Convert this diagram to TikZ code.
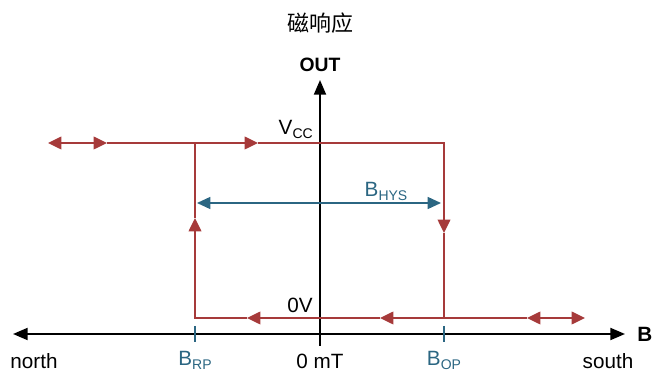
\documentclass[tikz,border=0pt]{standalone}
\usepackage{fontspec}
\setmainfont{Liberation Sans}
\newfontfamily\cjkfont{Noto Sans CJK SC}
\usetikzlibrary{arrows.meta}
\definecolor{hysred}{HTML}{A63A3A}
\definecolor{hysblue}{HTML}{2B6682}
\newcommand{\lowsub}[1]{\raisebox{-0.3ex}{\fontsize{10.5}{10.5}\selectfont #1}}

\begin{document}
\begin{tikzpicture}[x = 0.75pt, y = -0.75pt,
        axisline/.style = {black, line width=1.5pt},
        hysline/.style = {hysred, line width=1.1pt},
        widthline/.style = {hysblue, line width=1.1pt},
        lbl/.style = {inner sep=0pt, font=\fontsize{15.5}{18}\selectfont},
        atip/.tip = {Triangle[length=11pt, width=9pt]},
        rtip/.tip = {Triangle[length=10pt, width=9.5pt]},
        btip/.tip = {Triangle[length=10pt, width=9pt]}]
                \useasboundingbox (0,0) rectangle (660,373);
                % axes
                \draw[axisline, atip-atip] (13,334) -- (625,334);
                \draw[axisline, -atip] (320,346) -- (320,80);
                \draw[axisline, line width=1.2pt] (312,143) -- (328,143);
                \draw[axisline, line width=1.2pt] (312,318) -- (328,318);
                \draw[widthline] (195,326) -- (195,342);
                \draw[widthline] (444,326) -- (444,342);
                % hysteresis loop
                \draw[hysline, rtip-rtip] (48,143) -- (107,143);
                \draw[hysline, -rtip] (107,143) -- (258,143);
                \draw[hysline, -rtip] (258,143) -- (444,143) -- (444,233);
                \draw[hysline, -rtip] (444,233) -- (444,318) -- (380,318);
                \draw[hysline, -rtip] (380,318) -- (247,318);
                \draw[hysline, -rtip] (247,318) -- (195,318) -- (195,218);
                \draw[hysline] (195,218) -- (195,143);
                \draw[hysline] (444,318) -- (527,318);
                \draw[hysline, rtip-rtip] (527,318) -- (585,318);
                \draw[widthline, btip-btip] (197,203) -- (441,203);
                % labels
                \node (title) at (320,23) {\cjkfont\fontsize{16.5}{18}\selectfont 磁响应};
                \node[lbl, anchor=base, font=\bfseries\fontsize{14.5}{18}\selectfont] (out) at (320,72) {OUT};
                \node[lbl, anchor=base west, font=\bfseries\fontsize{15.5}{18}\selectfont] (b) at (637,342) {B};
                \node[lbl, anchor=base east] (vcc) at (313,135) {V\lowsub{CC}};
                \node[lbl, anchor=base east] (zero) at (313,313) {0V};
                \node[lbl, anchor=base, text=hysblue] (bhys) at (386,197) {B\lowsub{HYS}};
                \node[lbl, anchor=base, text=hysblue] (brp) at (195,366) {B\lowsub{RP}};
                \node[lbl, anchor=base, text=hysblue] (bop) at (444,366) {B\lowsub{OP}};
                \node[lbl, anchor=base] (north) at (34,369) {north};
                \node[lbl, anchor=base] (zeromt) at (320,369) {0 mT};
                \node[lbl, anchor=base] (south) at (608,369) {south};
            \end{tikzpicture}
\end{document}
